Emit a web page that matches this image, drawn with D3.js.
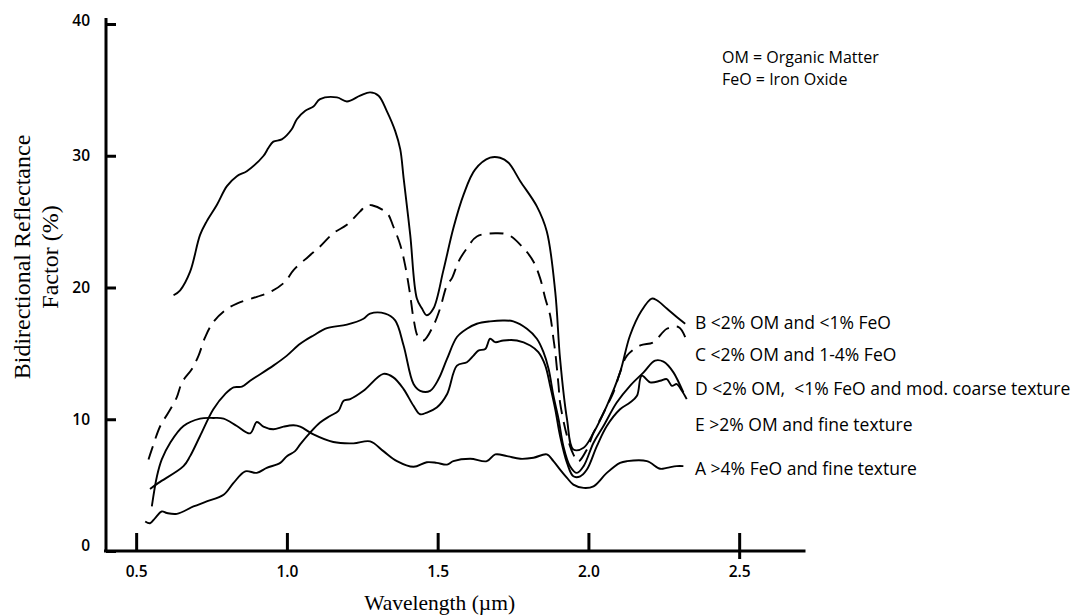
<!DOCTYPE html>
<html>
<head>
<meta charset="utf-8">
<script src="https://cdn.jsdelivr.net/npm/d3@7"></script>
<style>
  html, body { margin: 0; padding: 0; background: #fff; }
  svg { display: block; }
  .tick text { font-family: "Open Sans", sans-serif; font-size: 15.5px; font-weight: 600; fill: #000; }
  .lbl { font-family: "Open Sans", sans-serif; font-size: 17.5px; font-weight: 500; fill: #000; }
  .note { font-family: "Open Sans", sans-serif; font-size: 16px; font-weight: 500; fill: #000; }
  .title { font-family: "Liberation Serif", "Times New Roman", serif; fill: #000; }
</style>
</head>
<body>
<svg id="chart" width="1080" height="616"></svg>
<script>
// Spectral reflectance of soils: wavelength (µm) vs bidirectional reflectance factor (%)
const xTicks = [0.5, 1.0, 1.5, 2.0, 2.5];
const yTicks = [0, 10, 20, 30, 40];

// B: <2% OM and <1% FeO
const curveB = [[0.624,19.41],[0.646,19.79],[0.679,21.20],[0.712,23.99],[0.734,25.02],[0.768,26.28],[0.801,27.69],[0.834,28.45],[0.867,28.83],[0.922,29.98],[0.939,30.61],[0.955,31.07],[0.983,31.24],[1.016,32.01],[1.033,32.77],[1.061,33.41],[1.088,33.74],[1.110,34.30],[1.166,34.43],[1.199,34.12],[1.243,34.56],[1.276,34.81],[1.304,34.56],[1.331,33.41],[1.359,31.89],[1.376,30.48],[1.387,28.32],[1.409,23.99],[1.431,19.16],[1.448,18.40],[1.464,17.89],[1.486,18.40],[1.519,21.30],[1.552,24.50],[1.586,27.05],[1.624,28.95],[1.674,29.85],[1.707,29.85],[1.735,29.47],[1.774,28.07],[1.829,26.16],[1.862,24.25],[1.890,19.67],[1.906,14.58],[1.929,10.00],[1.950,7.71],[1.984,7.84],[2.017,8.98],[2.061,11.02],[2.105,13.56],[2.138,16.36],[2.177,18.27],[2.210,19.16],[2.227,19.03],[2.260,18.40],[2.293,17.76],[2.321,17.25]];

// C: <2% OM and 1-4% FeO (dashed)
const curveC = [[0.541,6.95],[0.552,7.71],[0.580,9.49],[0.607,10.51],[0.635,11.68],[0.652,12.80],[0.685,13.82],[0.707,14.83],[0.729,16.24],[0.756,17.38],[0.795,18.27],[0.834,18.78],[0.900,19.29],[0.950,19.72],[0.994,20.44],[1.022,21.32],[1.071,22.34],[1.110,23.11],[1.154,24.12],[1.199,24.76],[1.243,25.78],[1.265,26.24],[1.282,26.24],[1.332,25.65],[1.353,24.63],[1.376,23.23],[1.392,21.70],[1.409,19.41],[1.420,17.63],[1.435,16.26],[1.453,15.98],[1.486,17.12],[1.508,18.40],[1.531,20.18],[1.547,20.69],[1.569,21.96],[1.597,22.98],[1.630,23.87],[1.691,24.12],[1.735,23.99],[1.785,22.98],[1.818,21.96],[1.840,20.69],[1.857,19.16],[1.873,17.89],[1.884,16.11],[1.890,15.09],[1.901,12.54],[1.906,11.27],[1.929,8.73],[1.950,7.33],[1.966,6.79],[1.995,7.71],[2.017,8.98],[2.045,10.25],[2.067,11.27],[2.083,12.04],[2.105,13.56],[2.128,14.83],[2.172,15.60],[2.216,15.85],[2.260,16.87],[2.299,17.00],[2.321,16.24]];

// D: <2% OM, <1% FeO and moderately coarse texture
const curveD = [[0.546,4.71],[0.574,5.17],[0.657,6.44],[0.679,7.20],[0.712,8.73],[0.756,10.76],[0.795,11.91],[0.823,12.42],[0.851,12.47],[0.878,12.92],[0.955,14.07],[1.000,14.83],[1.044,15.73],[1.088,16.36],[1.133,16.91],[1.199,17.18],[1.254,17.63],[1.276,18.02],[1.326,18.02],[1.359,17.50],[1.387,15.60],[1.420,12.67],[1.442,12.16],[1.475,12.16],[1.503,13.05],[1.531,14.58],[1.564,16.24],[1.597,16.87],[1.630,17.25],[1.674,17.43],[1.718,17.50],[1.751,17.43],[1.796,16.87],[1.829,16.11],[1.851,15.09],[1.868,13.82],[1.884,11.78],[1.901,10.00],[1.917,7.96],[1.939,6.44],[1.962,5.93],[1.984,6.44],[2.017,8.22],[2.050,9.49],[2.094,11.27],[2.138,12.54],[2.183,13.56],[2.221,14.45],[2.249,14.37],[2.282,13.56],[2.315,12.04]];

// E: >2% OM and fine texture
const curveE = [[0.530,2.24],[0.546,2.11],[0.563,2.50],[0.585,3.00],[0.602,2.88],[0.635,2.82],[0.690,3.38],[0.734,3.76],[0.790,4.27],[0.823,5.17],[0.862,6.05],[0.900,5.93],[0.933,6.31],[0.978,6.69],[1.000,7.20],[1.027,7.58],[1.044,8.09],[1.077,8.98],[1.110,9.75],[1.143,10.25],[1.171,10.63],[1.188,11.40],[1.210,11.53],[1.254,12.16],[1.320,13.44],[1.353,13.18],[1.387,12.29],[1.420,11.02],[1.442,10.38],[1.464,10.51],[1.497,10.89],[1.531,11.90],[1.564,14.07],[1.597,14.33],[1.619,14.83],[1.635,15.21],[1.658,15.34],[1.674,16.11],[1.691,15.85],[1.718,15.98],[1.763,15.98],[1.807,15.60],[1.834,15.09],[1.857,14.07],[1.873,12.54],[1.890,10.76],[1.906,8.73],[1.929,6.69],[1.950,5.67],[1.973,5.67],[1.995,6.18],[2.028,7.96],[2.061,9.49],[2.105,10.76],[2.138,11.27],[2.161,11.78],[2.177,13.31],[2.205,12.80],[2.238,12.92],[2.260,13.05],[2.277,12.54],[2.293,12.67],[2.310,12.16],[2.326,11.53]];

// A: >4% FeO and fine texture
const curveA = [[0.552,3.38],[0.569,5.67],[0.585,6.95],[0.613,8.22],[0.657,9.49],[0.712,10.05],[0.756,10.10],[0.790,10.05],[0.834,9.49],[0.878,8.93],[0.900,9.79],[0.922,9.44],[0.955,9.24],[0.989,9.44],[1.022,9.54],[1.044,9.44],[1.088,8.85],[1.154,8.27],[1.221,8.17],[1.276,8.32],[1.320,7.58],[1.365,6.82],[1.420,6.39],[1.464,6.74],[1.497,6.69],[1.531,6.56],[1.552,6.82],[1.608,7.00],[1.663,6.82],[1.691,7.33],[1.730,7.20],[1.774,7.00],[1.818,7.08],[1.862,7.33],[1.884,6.82],[1.906,6.18],[1.929,5.55],[1.950,5.04],[1.984,4.79],[2.017,4.91],[2.061,5.93],[2.105,6.69],[2.128,6.82],[2.194,6.82],[2.238,6.24],[2.260,6.31],[2.293,6.44],[2.315,6.44]];

const seriesCurves = [curveB, curveC, curveD, curveE, curveA];
const seriesDashed = [false, true, false, false, false];
const seriesLabels = [
  "B <2% OM and <1% FeO",
  "C <2% OM and 1-4% FeO",
  "D <2% OM,\u00a0 <1% FeO and mod. coarse texture",
  "E >2% OM and fine texture",
  "A >4% FeO and fine texture"
];
// label anchor reflectance values at the right end of the curves
const labelLevels = [17.3, 14.9, 12.3, 9.6, 6.2];
const notes = ["OM = Organic Matter", "FeO = Iron Oxide"];

const svg = d3.select("#chart");

const x = d3.scaleLinear().domain([0.4, 2.72]).range([106, 805.5]);
const y = d3.scaleLinear().domain([0, 40]).range([551, 24]);

// x axis: ticks point up into the plot
const xAxis = svg.append("g")
  .attr("transform", `translate(0,${y(0)})`)
  .call(d3.axisBottom(x).tickValues(xTicks).tickFormat(d3.format(".1f"))
        .tickSizeInner(-18).tickSizeOuter(0).tickPadding(12));
xAxis.select(".domain").attr("stroke", "#000").attr("stroke-width", 3)
  .attr("d", `M${x.range()[0] - 2},0H${x.range()[1]}`);
xAxis.selectAll(".tick line").attr("stroke", "#000").attr("stroke-width", 3);
xAxis.selectAll(".tick").filter(d => d === 2.5).select("line").attr("y1", 8);
xAxis.selectAll(".tick text").attr("dy", "0.9em");

// y axis: ticks point right into the plot; the axis line runs a little past 40
const yAxis = svg.append("g")
  .attr("transform", `translate(${x.range()[0]},0)`)
  .call(d3.axisLeft(y).tickValues(yTicks).tickFormat(d3.format("d"))
        .tickSizeInner(-10).tickSizeOuter(0).tickPadding(16));
yAxis.select(".domain").attr("stroke", "#000").attr("stroke-width", 3)
  .attr("d", `M0,${y(0)}V18`);
yAxis.selectAll(".tick line").attr("stroke", "#000").attr("stroke-width", 3);
yAxis.selectAll(".tick").filter(d => d === 0).select("text").attr("dy", "-0.05em");
yAxis.selectAll(".tick").filter(d => d === 40).select("text").attr("dy", "0.1em");

// spectral curves
const line = d3.line()
  .x(d => x(d[0]))
  .y(d => y(d[1]))
  .curve(d3.curveCatmullRom.alpha(0.5));

svg.append("g").selectAll("path")
  .data(seriesCurves)
  .join("path")
  .attr("d", line)
  .attr("fill", "none")
  .attr("stroke", "#000")
  .attr("stroke-width", 1.9)
  .attr("stroke-linejoin", "round")
  .attr("stroke-dasharray", (d, i) => seriesDashed[i] ? "14,8" : null);

// curve labels
svg.append("g").selectAll("text")
  .data(seriesLabels)
  .join("text")
  .attr("class", "lbl")
  .attr("x", 695)
  .attr("y", (d, i) => y(labelLevels[i]))
  .attr("dy", "0.35em")
  .text(d => d);

// abbreviations note
svg.append("g").selectAll("text")
  .data(notes)
  .join("text")
  .attr("class", "note")
  .attr("x", 722)
  .attr("y", (d, i) => 57 + i * 22)
  .attr("dy", "0.35em")
  .text(d => d);

// axis titles
svg.append("text").attr("class", "title")
  .attr("x", x(1.5) + 2).attr("y", 602)
  .attr("text-anchor", "middle").attr("dy", "0.35em")
  .style("font-size", "21.5px")
  .text("Wavelength (\u00b5m)");

const yTitle = svg.append("text").attr("class", "title")
  .attr("transform", "translate(0,257) rotate(-90)")
  .attr("text-anchor", "middle")
  .style("font-size", "24px");
yTitle.append("tspan").attr("x", 0).attr("y", 30).text("Bidirectional Reflectance");
yTitle.append("tspan").attr("x", 0).attr("y", 58).text("Factor (%)");
</script>
</body>
</html>
